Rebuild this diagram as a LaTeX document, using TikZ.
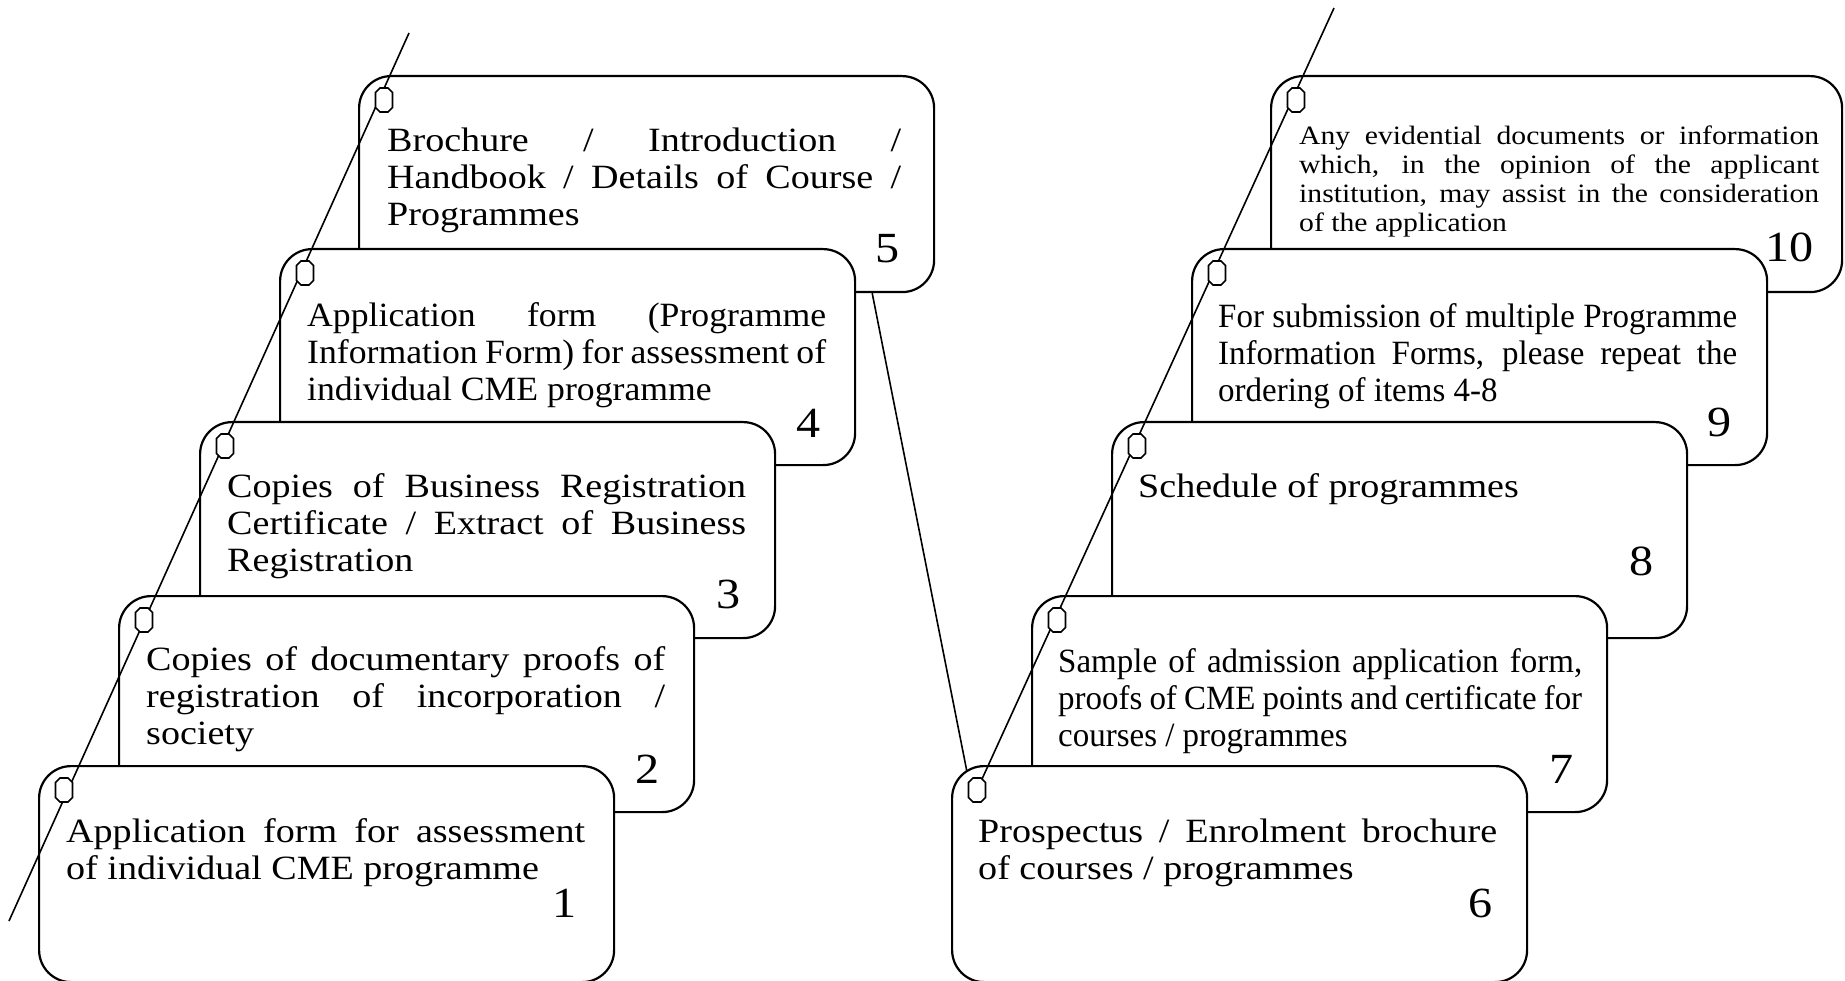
\documentclass[tikz,border=0pt]{standalone}
\usepackage{fontspec}
\setmainfont{Liberation Serif}[FakeStretch=1.12]
\newfontfamily\fmid{Liberation Serif}[FakeStretch=1.05]
\newfontfamily\fnarrow{Liberation Serif}[FakeStretch=0.97]
\usetikzlibrary{calc}
\newcommand{\jline}[1]{\makebox[519pt][s]{#1}}
\newcommand{\jlinesmall}[1]{\makebox[520pt][s]{#1}}
\newcommand{\jlinecond}[1]{\makebox[524pt][s]{#1}}
\begin{document}
\begin{tikzpicture}[x=1pt,y=-1pt,
  card/.style={draw, line width=2.2pt, fill=white, rounded corners=32pt,
    minimum width=575pt, minimum height=216pt, anchor=north west, inner sep=0pt},
  txt/.style={anchor=base west, inner sep=0pt, align=left,
    font=\fontsize{34}{37}\selectfont},
  smalltxt/.style={anchor=base west, inner sep=0pt, align=left,
    font=\fontsize{26.5}{29}\selectfont},
  num/.style={anchor=base east, inner sep=0pt, font=\fontsize{43}{46}\selectfont},
  hole/.style={draw, line width=1.6pt, fill=white},
  binder/.style={line width=1.6pt}
]
\useasboundingbox (0,0) rectangle (1845,981);

% ---------- left column (back to front) ----------
\node[card] (c5) at (358,75) {};
\node[txt] (t5) at ($(c5.north west)+(29,151)$)
  {\makebox[514pt][s]{Brochure / Introduction /}\\
   \makebox[514pt][s]{Handbook / Details of Course /}\\ Programmes};
\node[num] (n5) at ($(c5.north east)+(-35,188)$) {5};

\node[card] (c4) at (279,248) {};
\node[txt, font=\fmid\fontsize{34}{37}\selectfont] (t4) at ($(c4.north west)+(28,153)$)
  {\jline{Application form (Programme}\\
   \jline{Information Form) for assessment of}\\ individual CME programme};
\node[num] (n4) at ($(c4.north east)+(-35,190)$) {4};

\node[card] (c3) at (199,421) {};
\node[txt] (t3) at ($(c3.north west)+(28,150)$)
  {\jline{Copies of Business Registration}\\
   \jline{Certificate / Extract of Business}\\ Registration};
\node[num] (n3) at ($(c3.north east)+(-35,187)$) {3};

\node[card] (c2) at (118,595) {};
\node[txt] (t2) at ($(c2.north west)+(28,149)$)
  {\jline{Copies of documentary proofs of}\\
   \jline{registration of incorporation /}\\ society};
\node[num] (n2) at ($(c2.north east)+(-35,188)$) {2};

\node[card] (c1) at (38,765) {};
\node[txt] (t1) at ($(c1.north west)+(28,114)$)
  {\jline{Application form for assessment}\\ of individual CME programme};
\node[num] (n1) at ($(c1.north east)+(-38,152)$) {1};

% ---------- right column (back to front) ----------
\node[card, minimum width=571pt] (c10) at (1270,75) {};
\node[smalltxt] (t10) at ($(c10.north west)+(29,157)$)
  {\jlinesmall{Any evidential documents or information}\\
   \jlinesmall{which, in the opinion of the applicant}\\
   \jlinesmall{institution, may assist in the consideration}\\ of the application};
\node[num] (n10) at ($(c10.north east)+(-29,187)$) {10};

\node[card] (c9) at (1191,248) {};
\node[txt, font=\fnarrow\fontsize{34}{37}\selectfont] (t9) at ($(c9.north west)+(27,154)$)
  {\jline{For submission of multiple Programme}\\
   \jline{Information Forms, please repeat the}\\ ordering of items 4-8};
\node[num] (n9) at ($(c9.north east)+(-36,189)$) {9};

\node[card] (c8) at (1111,421) {};
\node[txt] (t8) at ($(c8.north west)+(27,76)$) {Schedule of programmes};
\node[num] (n8) at ($(c8.north east)+(-34,154)$) {8};

\node[card] (c7) at (1031,595) {};
\node[txt, font=\fnarrow\fontsize{34}{37}\selectfont] (t7) at ($(c7.north west)+(27,151)$)
  {\jlinecond{Sample of admission application form,}\\
   \jlinecond{proofs of CME points and certificate for}\\
   courses / programmes};
\node[num] (n7) at ($(c7.north east)+(-34,188)$) {7};

% ---------- connector from card 5 to card 6 (behind card 6) ----------
\coordinate (c5out) at ($(c5.south east)+(-63,0)$);
\coordinate (c6in) at (967,772);
\draw[binder] (c5out) -- (c6in);

\node[card] (c6) at (951,765) {};
\node[txt] (t6) at ($(c6.north west)+(27,114)$)
  {\jline{Prospectus / Enrolment brochure}\\ of courses / programmes};
\node[num] (n6) at ($(c6.north east)+(-35,152)$) {6};

% ---------- hole positions ----------
\foreach \c in {c1,c2,c3,c4,c5,c6,c7,c8,c9,c10}
  \coordinate (h\c) at ($(\c.north west)+(26,25)$);

% ---------- binder lines ----------
\coordinate (Ltop) at (409,33);
\coordinate (Lbot) at (9,921);
\draw[binder] (Ltop) -- (Lbot);
\coordinate (Rtop) at (1334,8);
\draw[binder] (Rtop) -- (hc6);

% ---------- holes ----------
\foreach \c in {c1,c2,c3,c4,c5,c6,c7,c8,c9,c10}
  \draw[hole, shift={(h\c)}] (-8.5,-7.5) -- (-8.5,7.5) -- (-4,12) -- (4,12)
     -- (8.5,7.5) -- (8.5,-7.5) -- (4,-12) -- (-4,-12) -- cycle;
\end{tikzpicture}
\end{document}
